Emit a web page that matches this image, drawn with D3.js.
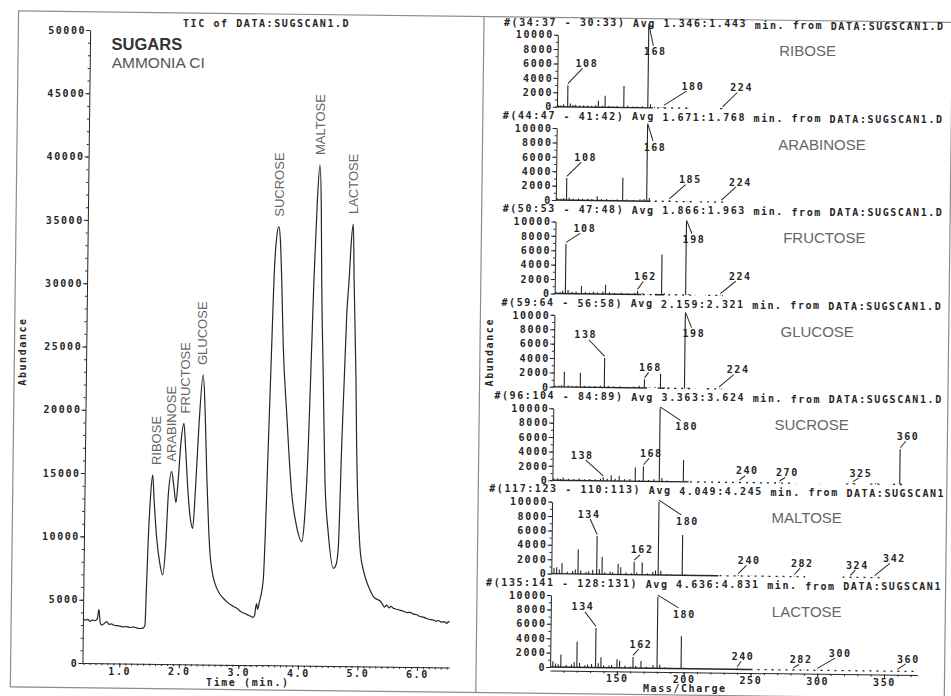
<!DOCTYPE html>
<html><head><meta charset="utf-8">
<script src="https://cdn.jsdelivr.net/npm/d3@7"></script>
<style>body{margin:0;background:#fff}svg{display:block}</style>
</head><body>
<svg id="c" width="951" height="696"></svg>
<script>
// ---------------- DATA ----------------
// Total ion chromatogram (time in min, abundance)
const ticTime = [0.383,0.42,0.46,0.50,0.54,0.58,0.62,0.647,0.67,0.696,0.74,0.78,0.82,0.86,0.891,0.95,1.0,1.05,1.116,1.18,1.22,1.28,1.33,1.368,1.40,1.423,1.44,1.46,1.49,1.522,1.55,1.60,1.65,1.71,1.75,1.79,1.84,1.88,1.919,1.95,1.99,2.036,2.07,2.12,2.17,2.204,2.24,2.29,2.35,2.39,2.43,2.47,2.50,2.55,2.609,2.67,2.733,2.80,2.87,2.962,3.02,3.08,3.15,3.20,3.232,3.26,3.28,3.294,3.31,3.34,3.40,3.457,3.494,3.519,3.55,3.59,3.62,3.649,3.689,3.76,3.86,3.95,4.038,4.08,4.129,4.166,4.191,4.23,4.268,4.30,4.321,4.368,4.416,4.483,4.577,4.62,4.655,4.69,4.749,4.781,4.81,4.84,4.865,4.917,4.942,5.017,5.08,5.127,5.19,5.253,5.30,5.36,5.40,5.44,5.478,5.52,5.55,5.592,5.65,5.70,5.76,5.82,5.87,5.93,5.987,6.04,6.10,6.15,6.20,6.267,6.31,6.35,6.40,6.45,6.49,6.519,6.54];
const ticAbundance = [3530,3380,3450,3300,3420,3350,3500,4257,3200,3017,3150,3286,3080,3120,3033,2980,2950,2900,2914,2850,2900,2830,2780,2796,2850,3057,6000,9778,13200,14920,13000,10000,8200,7029,9000,13500,15196,14000,12755,14500,17500,19026,17000,13500,11300,10733,13500,19000,22865,20000,15000,11000,8798,7100,6160,5600,5252,4950,4700,4470,4250,4100,3950,3850,3775,3900,4600,4857,4400,5000,6729,17265,25163,30431,33500,34648,33500,30439,25150,19926,13608,10970,9794,11500,17304,25202,30605,36500,39561,36000,30478,22580,14690,10481,7724,8000,9430,17328,27872,30510,33500,34933,30510,22612,17344,9454,7600,6832,6100,5521,5350,5200,5000,4700,4873,4650,4780,4620,4550,4480,4400,4300,4320,4180,4131,4000,3950,3850,3780,3736,3650,3700,3580,3620,3480,3617,3600];
const ticYTicks = [0,5000,10000,15000,20000,25000,30000,35000,40000,45000,50000];
const ticXTicks = [1,2,3,4,5,6];
const peakNames = ["RIBOSE","ARABINOSE","FRUCTOSE","GLUCOSE","SUCROSE","MALTOSE","LACTOSE"];
const peakLabelTimes = [1.59,1.84,2.06,2.34,3.59,4.27,4.84];
const peakTopAbund = [14920,15196,19026,22865,34648,39561,34933];

// Mass spectra
const spectraNames = ["RIBOSE","ARABINOSE","FRUCTOSE","GLUCOSE","SUCROSE","MALTOSE","LACTOSE"];
const spectraHeaders = [
  "#(34:37 - 30:33) Avg 1.346:1.443 min. from DATA:SUGSCAN1.D",
  "#(44:47 - 41:42) Avg 1.671:1.768 min. from DATA:SUGSCAN1.D",
  "#(50:53 - 47:48) Avg 1.866:1.963 min. from DATA:SUGSCAN1.D",
  "#(59:64 - 56:58) Avg 2.159:2.321 min. from DATA:SUGSCAN1.D",
  "#(96:104 - 84:89) Avg 3.363:3.624 min. from DATA:SUGSCAN1.D",
  "#(117:123 - 110:113) Avg 4.049:4.245 min. from DATA:SUGSCAN1",
  "#(135:141 - 128:131) Avg 4.636:4.831 min. from DATA:SUGSCAN1"
];
const specYTicks = [0,2000,4000,6000,8000,10000];
const massTicks = [150,200,250,300,350];

const riboseMz = [101,103,105,108,110,112,114,117,120,123,126,129,131,134,136,139,142,145,150,153,157,160,164,168,170,173,178,180,186,191,198,224];
const riboseAb = [250,200,350,3000,450,250,300,200,250,200,150,250,900,200,1600,200,150,200,3000,250,150,150,200,11400,500,150,80,150,80,60,60,50];
const arabinoseMz = [101,104,106,108,110,113,117,120,124,127,131,134,138,142,146,150,153,158,163,166,168,170,175,180,185,190,198,224];
const arabinoseAb = [250,200,300,3100,350,200,250,200,250,200,600,200,250,150,200,3200,200,150,250,300,10600,450,150,100,150,60,60,50];
const fructoseMz = [101,104,106,108,110,113,116,120,123,126,129,132,136,138,141,145,150,155,160,162,166,170,176,180,182,186,190,198,200,205,213,224];
const fructoseAb = [250,200,400,6900,500,250,300,1100,250,200,300,200,350,1300,250,150,200,150,250,500,200,100,150,5600,250,100,80,10200,150,60,50,60];
const glucoseMz = [101,104,106,108,111,114,117,120,123,127,131,135,138,141,145,150,155,160,164,168,172,176,180,183,187,192,198,200,206,215,224];
const glucoseAb = [200,150,250,2100,200,150,200,2000,200,150,200,250,4100,200,150,200,150,200,300,1200,100,150,2000,100,80,60,10400,120,50,50,60];
const sucroseMz = [101,104,106,108,112,116,120,124,128,132,136,138,141,144,147,150,154,158,162,165,168,172,176,180,182,186,190,198,200,210,220,230,240,250,260,270,282,300,325,342,360];
const sucroseAb = [250,300,200,400,250,200,300,200,250,200,300,500,300,800,300,700,250,300,1900,200,2100,200,300,10170,500,150,100,3000,150,80,60,60,120,50,50,80,40,40,120,150,4900];
const maltoseMz = [102,104,106,108,112,116,118,120,122,126,128,131,134,136,138,140,144,146,150,152,156,160,162,164,168,172,176,178,180,182,186,190,198,200,210,220,230,240,250,262,270,282,324,342];
const maltoseAb = [800,900,600,1500,300,400,600,3400,500,300,400,600,5300,700,2400,300,400,300,1500,1000,300,200,1800,300,1700,200,400,600,10180,600,150,100,5600,150,60,50,50,100,40,40,40,80,60,50];
const lactoseMz = [102,104,106,108,112,116,118,120,122,126,128,131,134,136,138,140,144,146,150,152,156,160,162,164,168,172,177,180,182,186,190,198,200,210,220,230,240,250,262,270,282,290,300,320,340,360];
const lactoseAb = [800,500,400,1750,300,400,700,3550,600,300,400,500,5500,600,1450,300,300,400,1200,1000,300,200,1550,300,1000,200,450,9960,500,150,100,4500,150,80,60,60,150,50,40,40,80,40,60,40,40,60];

// labelled ions per spectrum
const riboseLabels = [108,168,180,224];
const arabinoseLabels = [108,168,185,224];
const fructoseLabels = [108,162,198,224];
const glucoseLabels = [138,168,198,224];
const sucroseLabels = [138,168,180,240,270,325,360];
const maltoseLabels = [134,162,180,240,282,324,342];
const lactoseLabels = [134,162,180,240,282,300,360];

// m/z ranges of continuous / dotted baseline noise
const riboseNoise = [[100,172]], riboseDots = [[175,200],[222,226]];
const arabinoseNoise = [[100,171]], arabinoseDots = [[174,202],[208,226]];
const fructoseNoise = [[100,165],[175,182]], fructoseDots = [[166,174],[185,206],[215,226]];
const glucoseNoise = [[100,170],[178,183]], glucoseDots = [[185,206],[215,226]];
const sucroseNoise = [[100,202]], sucroseDots = [[203,280],[320,330],[338,346],[355,363]];
const maltoseNoise = [[100,225]], maltoseDots = [[226,290],[318,346]];
const lactoseNoise = [[100,250]], lactoseDots = [[250,375]];

// ---------------- LAYOUT ----------------
const spectra = [
  {mz: riboseMz, ab: riboseAb, labels: riboseLabels, noise: riboseNoise, dots: riboseDots},
  {mz: arabinoseMz, ab: arabinoseAb, labels: arabinoseLabels, noise: arabinoseNoise, dots: arabinoseDots},
  {mz: fructoseMz, ab: fructoseAb, labels: fructoseLabels, noise: fructoseNoise, dots: fructoseDots},
  {mz: glucoseMz, ab: glucoseAb, labels: glucoseLabels, noise: glucoseNoise, dots: glucoseDots},
  {mz: sucroseMz, ab: sucroseAb, labels: sucroseLabels, noise: sucroseNoise, dots: sucroseDots},
  {mz: maltoseMz, ab: maltoseAb, labels: maltoseLabels, noise: maltoseNoise, dots: maltoseDots},
  {mz: lactoseMz, ab: lactoseAb, labels: lactoseLabels, noise: lactoseNoise, dots: lactoseDots}
];
// label offsets (px) from the peak top, per spectrum
const labelOffsets = [
  [[18,-22],[6,26],[28,-21],[18,-21]],
  [[18,-21],[7,22],[20,-21],[18,-20]],
  [[18,-16],[7,-14.5],[7,18],[19,-19]],
  [[-20,-23],[5,-12],[8,20],[18,-19]],
  [[-22,-22],[7,-13],[26,18],[7,-11],[7,-10],[7,-10],[7,-13]],
  [[-9,-22],[7,-12],[28,19],[10,-15],[7,-13],[6,-12],[19,-19]],
  [[-14,-21],[7,-13],[26,17],[5,-12],[7,-10],[22,-17],[10,-12]]
];
const headerX = [500,500,501,501,495,491,489];
const nameX = [804,819.5,823,817,812.6,808.8,810];

const ink = "#262626";
const frameColor = "#8c8c8c";
const mono = "'DejaVu Sans Mono','Liberation Mono',monospace";
const sans = "'Liberation Sans',Arimo,Arial,sans-serif";
const tilt = 0.7; // slight rotation of the photographed printout
const pitch = 6.02 + 1.58; // monospace advance + letter spacing

const svg = d3.select("#c");
const root = svg.append("g").attr("transform",`rotate(${tilt} 475.5 348)`);

function monoText(sel){
  return sel.attr("font-family", mono).attr("font-size", 10).attr("font-weight","bold")
    .attr("letter-spacing","1.58px").attr("fill", ink);
}
function wordText(g, str, x0, yb){
  let idx = 0;
  str.split(" ").forEach(w=>{
    if(w.length) g.append("text").attr("x", x0 + idx*pitch).attr("y", yb).text(w).call(monoText);
    idx += w.length + 1;
  });
}

// frame
root.append("rect").attr("x",14.5).attr("y",16.5).attr("width",934).attr("height",676)
  .attr("fill","none").attr("stroke",frameColor).attr("stroke-width",1.2);
root.append("line").attr("x1",480).attr("x2",480).attr("y1",16.5).attr("y2",692.5)
  .attr("stroke",frameColor).attr("stroke-width",1.2);

// ---------------- LEFT: TIC ----------------
const x = d3.scaleLinear().domain([0.38,6.54]).range([86.3,453]);
const y = d3.scaleLinear().domain([0,50000]).range([667.8,34.7]);

const gl = root.append("g");
gl.append("g").attr("transform",`translate(${x.range()[0]},0)`)
  .call(d3.axisLeft(y).tickValues(ticYTicks).tickSize(4).tickSizeOuter(0).tickPadding(0).tickFormat(d3.format("d")));
gl.append("g").attr("transform",`translate(${x.range()[0]},0)`)
  .call(d3.axisLeft(y).tickValues(d3.range(0,50001,1000)).tickSize(2).tickSizeOuter(0).tickFormat(""))
  .select(".domain").remove();
gl.append("g").attr("transform",`translate(0,${y(0)})`)
  .call(d3.axisBottom(x).tickValues(ticXTicks).tickSize(4).tickSizeOuter(0).tickPadding(0).tickFormat(d=>d.toFixed(1)));
gl.append("g").attr("transform",`translate(0,${y(0)})`)
  .call(d3.axisBottom(x).tickValues(d3.range(4,66).map(d=>d/10)).tickSize(2).tickSizeOuter(0).tickFormat(""))
  .select(".domain").remove();
gl.selectAll(".domain,.tick line").attr("stroke",ink).attr("stroke-width",1);
gl.selectAll(".tick text").call(monoText);

// TIC trace
const ticData = ticTime.map((t,i)=>[t,ticAbundance[i]]);
gl.append("path").datum(ticData)
  .attr("d", d3.line().x(d=>x(d[0])).y(d=>y(d[1])).curve(d3.curveMonotoneX))
  .attr("fill","none").attr("stroke",ink).attr("stroke-width",1.2).attr("stroke-linejoin","round");

// texts
gl.append("text").attr("x",262.7).attr("y",29.5).attr("text-anchor","middle").text("TIC of DATA:SUGSCAN1.D").call(monoText);
gl.append("text").attr("x",252).attr("y",689).attr("text-anchor","middle").text("Time (min.)").call(monoText);
gl.append("text").attr("transform","translate(26,357) rotate(-90)").attr("text-anchor","middle").text("Abundance").call(monoText);
gl.append("text").attr("x",108).attr("y",54.4).text("SUGARS")
  .attr("font-family",sans).attr("font-weight","bold").attr("font-size",16.5).attr("fill","#333");
gl.append("text").attr("x",108.3).attr("y",72.4).text("AMMONIA CI")
  .attr("font-family",sans).attr("font-size",15.5).attr("fill","#555");
gl.selectAll(".peakname").data(peakNames).join("text").attr("class","peakname")
  .attr("transform",(d,i)=>`translate(${x(peakLabelTimes[i])+4.6},${y(peakTopAbund[i])-10}) rotate(-90)`)
  .attr("font-family",sans).attr("font-size",13).attr("fill","#666").text(d=>d);

// ---------------- RIGHT: SPECTRA ----------------
const xs = d3.scaleLinear().domain([100,375]).range([554,921.4]);
const gr = root.append("g");

spectra.forEach((s,i)=>{
  const v0 = 105.7 + 93.4*i;
  const ys = d3.scaleLinear().domain([0,10000]).range([v0, v0-72]);
  const g = gr.append("g");
  g.append("g").attr("transform",`translate(${xs.range()[0]},0)`)
    .call(d3.axisLeft(ys).tickValues(specYTicks).tickSize(4).tickSizeOuter(0).tickPadding(0).tickFormat(d3.format("d")));
  g.append("g").attr("transform",`translate(${xs.range()[0]},0)`)
    .call(d3.axisLeft(ys).tickValues(d3.range(0,10001,1000)).tickSize(2).tickSizeOuter(0).tickFormat(""))
    .select(".domain").remove();
  g.selectAll(".domain,.tick line").attr("stroke",ink).attr("stroke-width",1);
  g.selectAll(".tick text").call(monoText);
  g.selectAll(".noise").data(s.noise).join("line").attr("class","noise")
    .attr("x1",d=>xs(d[0])).attr("x2",d=>xs(d[1])).attr("y1",ys(0)).attr("y2",ys(0))
    .attr("stroke",ink).attr("stroke-width",1.4);
  g.selectAll(".dots").data(s.dots).join("line").attr("class","dots")
    .attr("x1",d=>xs(d[0])).attr("x2",d=>xs(d[1])).attr("y1",ys(0)).attr("y2",ys(0))
    .attr("stroke",ink).attr("stroke-width",1.3).attr("stroke-dasharray","2,5");
  const pk = s.mz.map((m,j)=>[m,s.ab[j]]);
  g.selectAll(".pk").data(pk).join("line").attr("class","pk")
    .attr("x1",d=>xs(d[0])).attr("x2",d=>xs(d[0])).attr("y1",ys(0)).attr("y2",d=>ys(d[1]))
    .attr("stroke",ink).attr("stroke-width",1.1);
  s.labels.forEach((m,k)=>{
    const j = s.mz.indexOf(m);
    const a = j>=0 ? s.ab[j] : 0;
    const px = xs(m), py = ys(a);
    const [dx,dy] = labelOffsets[i][k];
    const lx = px+dx, ly = py+dy;
    const ax = lx - dx*0.2, ay = dy<0 ? ly+5 : ly-6;
    g.append("line").attr("x1",px).attr("y1",py-1.5).attr("x2",ax).attr("y2",ay)
      .attr("stroke",ink).attr("stroke-width",1);
    g.append("text").attr("x",lx+0.8).attr("y",ly+3.6).attr("text-anchor","middle").text(m).call(monoText);
  });
  wordText(g, spectraHeaders[i], headerX[i], v0-80.5);
  g.append("text").attr("x",nameX[i]).attr("y",v0-53.5).attr("text-anchor","middle")
    .attr("font-family",sans).attr("font-size",15).attr("fill","#666").text(spectraNames[i]);
  if(i===spectra.length-1){
    const bx = g.append("g").attr("transform",`translate(0,${v0+3.5})`);
    bx.call(d3.axisBottom(xs).tickValues(massTicks).tickSize(4).tickSizeOuter(0).tickPadding(0).tickFormat(d3.format("d")));
    bx.append("g").call(d3.axisBottom(xs).tickValues(d3.range(110,375,10)).tickSize(2).tickSizeOuter(0).tickFormat(""))
      .select(".domain").remove();
    bx.selectAll(".domain,.tick line").attr("stroke",ink).attr("stroke-width",1);
    bx.selectAll(".tick text").call(monoText);
  }
});
gr.append("text").attr("x",689).attr("y",689.5).attr("text-anchor","middle").text("Mass/Charge").call(monoText);
gr.append("text").attr("transform","translate(493.5,352) rotate(-90)").attr("text-anchor","middle").text("Abundance").call(monoText);

// keep every text upright: counter-rotate each text about its own anchor
root.selectAll("text").each(function(){
  const t = d3.select(this);
  const ax = +t.attr("x") || 0, ay = +t.attr("y") || 0;
  const tr = t.attr("transform") || "";
  t.attr("transform", `${tr} rotate(${-tilt} ${ax} ${ay})`.trim());
});
</script>
</body></html>
